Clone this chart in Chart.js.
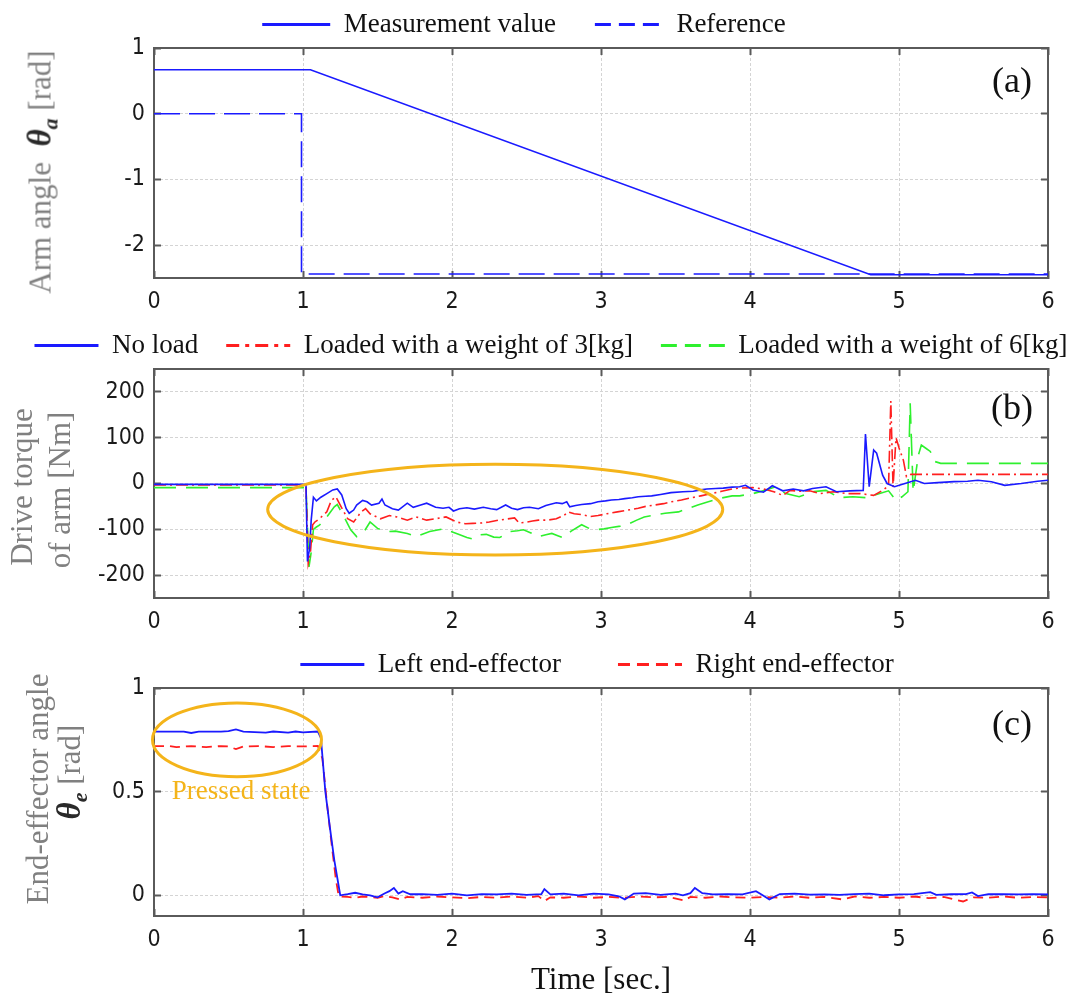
<!DOCTYPE html>
<html lang="en">
<head>
<meta charset="UTF-8">
<title>Arm angle, drive torque and end-effector angle</title>
<script src="https://cdn.jsdelivr.net/npm/chart.js@4.4.1/dist/chart.umd.min.js"></script>
<style>
  html, body { margin: 0; padding: 0; background: #fff; width: 1080px; height: 999px; overflow: hidden; }
  .panel { position: absolute; }
  .ytitle {
    position: absolute;
    transform: translate(-50%, -50%) rotate(-90deg);
    white-space: nowrap;
    font: 31px 'Liberation Serif', 'Times New Roman', serif;
    line-height: 36px;
    color: #808080;
  }
  .sym { font-style: italic; font-weight: bold; font-size: 33px; color: #2a2a2a; }
  .sym sub { font-size: 22px; vertical-align: -7px; }
</style>
</head>
<body>
<div class="panel" style="left:-56px; top:-28px;"><canvas id="chartA" width="1160" height="346"></canvas></div>
<div class="panel" style="left:-29px; top:304px;"><canvas id="chartB" width="1160" height="334"></canvas></div>
<div class="panel" style="left:17px; top:594px;"><canvas id="chartC" width="1160" height="405"></canvas></div>

<div class="ytitle" style="left:45px; top:172px;">Arm angle&nbsp; <span class="sym">θ<sub>a</sub></span> [rad]</div>
<div class="ytitle" style="left:22px; top:487px;">Drive torque</div>
<div class="ytitle" style="left:60px; top:490px;">of arm [Nm]</div>
<div class="ytitle" style="left:38px; top:789px;">End-effector angle</div>
<div class="ytitle" style="left:74px; top:772px;"><span class="sym">θ<sub>e</sub></span> [rad]</div>

<script>
// ---- data -------------------------------------------------------------

const timeTicks = [0, 1, 2, 3, 4, 5, 6];

// (a) arm angle [rad]
const armTicks = [-2, -1, 0, 1];
const armMeasured = [[0, 0.67], [1.05, 0.67], [4.81, -2.45], [6, -2.45]];
const armReference = [[0, 0], [0.99, 0], [0.99, -2.44], [6, -2.44]];

// (b) drive torque of arm [Nm]
const torqueTicks = [-200, -100, 0, 100, 200];
const torqueNoLoad = [
  [0, -2], [1.02, -2], [1.03, -170], [1.045, -140], [1.055, -80], [1.07, -30], [1.09, -38],
  [1.12, -30], [1.16, -22], [1.2, -14], [1.23, -12], [1.26, -25], [1.29, -55], [1.31, -65],
  [1.34, -58], [1.36, -47], [1.4, -37], [1.43, -40], [1.46, -47], [1.51, -43], [1.53, -34],
  [1.55, -47], [1.6, -55], [1.64, -58], [1.7, -43], [1.74, -52], [1.79, -47], [1.83, -43],
  [1.89, -52], [1.94, -54], [1.98, -52], [2.01, -60], [2.05, -55], [2.1, -53], [2.15, -56],
  [2.21, -52], [2.26, -55], [2.3, -57], [2.36, -47], [2.4, -54], [2.44, -57], [2.48, -53],
  [2.52, -52], [2.58, -55], [2.63, -48], [2.7, -42], [2.74, -44], [2.77, -40], [2.79, -51],
  [2.83, -48], [2.87, -46], [2.93, -44], [2.98, -40], [3.03, -38], [3.07, -36], [3.12, -35],
  [3.16, -33], [3.21, -31], [3.25, -29], [3.3, -28], [3.34, -27], [3.4, -24], [3.47, -20],
  [3.55, -18], [3.62, -17], [3.67, -14], [3.71, -12], [3.77, -11], [3.82, -10], [3.88, -8],
  [3.93, -7], [3.97, -4], [4.02, -14], [4.09, -19], [4.15, -5], [4.22, -16], [4.29, -12],
  [4.36, -16], [4.42, -11], [4.51, -7], [4.58, -18], [4.67, -16], [4.76, -15], [4.775, 108],
  [4.8, -7], [4.83, 73], [4.85, 66], [4.89, 18], [4.92, 0], [4.97, -7], [5.04, 0], [5.11, 7],
  [5.17, 0], [5.26, 2], [5.37, 4], [5.46, 5], [5.53, 7], [5.62, 4], [5.71, -4], [5.82, 0],
  [5.93, 5], [6, 7]
];
const torqueLoad3 = [
  [0, -3], [1.02, -3], [1.035, -174], [1.05, -150], [1.065, -90], [1.08, -84], [1.11, -77],
  [1.16, -62], [1.19, -37], [1.22, -29], [1.25, -47], [1.3, -77], [1.34, -84], [1.39, -62],
  [1.42, -55], [1.45, -66], [1.52, -77], [1.58, -70], [1.63, -73], [1.7, -80], [1.76, -73],
  [1.83, -80], [1.89, -77], [1.96, -73], [2.03, -84], [2.09, -88], [2.14, -87], [2.2, -86],
  [2.25, -84], [2.31, -80], [2.36, -78], [2.42, -75], [2.45, -86], [2.49, -85], [2.54, -82],
  [2.58, -80], [2.64, -80], [2.7, -77], [2.75, -70], [2.78, -62], [2.82, -66], [2.87, -68],
  [2.93, -72], [2.98, -70], [3.04, -66], [3.11, -62], [3.18, -58], [3.25, -54], [3.3, -50],
  [3.36, -47], [3.42, -44], [3.47, -40], [3.54, -36], [3.61, -31], [3.67, -27], [3.74, -22],
  [3.81, -17], [3.88, -12], [3.93, -10], [4.02, -9], [4.09, -12], [4.16, -18], [4.22, -26],
  [4.27, -15], [4.33, -17], [4.4, -16], [4.47, -22], [4.56, -18], [4.65, -22], [4.74, -22],
  [4.83, -26], [4.89, -15], [4.93, -5], [4.945, 180], [4.96, -8], [4.98, 100], [5.0, 78],
  [5.03, 50], [5.05, 15], [5.08, 20], [6, 20]
];
const torqueLoad6 = [
  [0, -9], [1.02, -9], [1.04, -182], [1.055, -150], [1.07, -100], [1.09, -95], [1.11, -91],
  [1.16, -73], [1.21, -51], [1.23, -46], [1.27, -69], [1.32, -101], [1.36, -116], [1.41, -105],
  [1.45, -84], [1.5, -98], [1.56, -105], [1.62, -104], [1.7, -109], [1.76, -116], [1.85, -105],
  [1.94, -99], [2.03, -109], [2.1, -118], [2.14, -121], [2.19, -112], [2.23, -111], [2.28, -117],
  [2.32, -118], [2.39, -105], [2.44, -103], [2.48, -101], [2.53, -108], [2.58, -116], [2.63, -112],
  [2.67, -109], [2.71, -114], [2.74, -118], [2.8, -104], [2.87, -90], [2.92, -98], [2.96, -101],
  [3.02, -99], [3.07, -96], [3.13, -93], [3.18, -89], [3.24, -80], [3.29, -73], [3.36, -69],
  [3.43, -65], [3.52, -62], [3.58, -55], [3.65, -47], [3.72, -40], [3.79, -33], [3.88, -27],
  [3.93, -27], [4.02, -22], [4.1, -15], [4.17, -7], [4.24, -22], [4.33, -29], [4.42, -18],
  [4.51, -15], [4.6, -31], [4.69, -29], [4.78, -31], [4.87, -22], [4.93, -16], [4.98, -37],
  [5.02, -29], [5.06, -18], [5.075, 175], [5.095, -18], [5.13, 62], [5.15, 84], [5.18, 77],
  [5.21, 70], [5.24, 48], [5.28, 44], [6, 44]
];

// (c) end-effector angle [rad]
const effectorTicks = [0, 0.5, 1];
const leftEffector = [
  [0, 0.79], [0.2, 0.79], [0.25, 0.783], [0.3, 0.79], [0.45, 0.79], [0.5, 0.792], [0.55, 0.8],
  [0.6, 0.79], [0.75, 0.785], [0.8, 0.79], [0.9, 0.785], [0.95, 0.79], [1.0, 0.786], [1.1, 0.79],
  [1.12, 0.76], [1.15, 0.5], [1.18, 0.33], [1.21, 0.17], [1.25, 0], [1.3, 0.005], [1.35, 0.012],
  [1.4, 0.004], [1.45, 0], [1.5, -0.01], [1.55, 0.01], [1.58, 0.02], [1.61, 0.035], [1.64, 0.008],
  [1.67, 0.02], [1.72, 0.005], [1.8, 0.006], [1.9, 0.002], [2.0, 0.008], [2.1, 0], [2.2, 0.006],
  [2.3, 0.004], [2.4, 0.008], [2.5, 0.002], [2.6, 0.006], [2.62, 0.03], [2.66, 0.004], [2.75, 0.008],
  [2.85, 0], [2.95, 0.008], [3.05, 0.004], [3.12, -0.005], [3.16, -0.02], [3.22, 0.008], [3.3, 0.01],
  [3.4, 0.002], [3.5, 0.008], [3.55, 0], [3.6, 0.01], [3.63, 0.035], [3.68, 0.01], [3.75, 0.004],
  [3.85, 0.006], [3.95, 0.004], [4.04, 0.02], [4.08, 0.003], [4.13, -0.02], [4.2, 0.006], [4.3, 0.008],
  [4.4, 0.003], [4.5, 0.004], [4.6, 0.002], [4.7, 0.006], [4.8, 0.008], [4.9, 0], [5.0, 0.004],
  [5.1, 0.006], [5.21, 0.015], [5.25, 0.002], [5.35, 0.005], [5.45, 0.006], [5.49, 0.014],
  [5.53, -0.004], [5.6, 0.006], [5.7, 0.005], [5.8, 0.004], [5.9, 0.005], [6, 0.004]
];
const rightEffector = [
  [0, 0.72], [0.1, 0.72], [0.15, 0.715], [0.25, 0.72], [0.35, 0.715], [0.45, 0.72], [0.5, 0.718],
  [0.55, 0.705], [0.6, 0.718], [0.7, 0.72], [0.8, 0.715], [0.9, 0.72], [1.0, 0.718], [1.1, 0.72],
  [1.13, 0.66], [1.16, 0.45], [1.19, 0.26], [1.22, 0.08], [1.24, -0.005], [1.3, -0.008],
  [1.35, -0.012], [1.4, -0.006], [1.5, -0.012], [1.55, -0.004], [1.6, -0.01], [1.65, -0.02],
  [1.7, -0.008], [1.8, -0.012], [1.9, -0.006], [2.0, -0.01], [2.1, -0.014], [2.2, -0.008],
  [2.3, -0.012], [2.4, -0.006], [2.5, -0.012], [2.58, -0.004], [2.62, -0.028], [2.66, -0.01],
  [2.75, -0.012], [2.85, -0.006], [2.95, -0.012], [3.05, -0.008], [3.15, -0.012], [3.25, -0.006],
  [3.35, -0.01], [3.45, -0.008], [3.56, -0.025], [3.6, -0.008], [3.7, -0.012], [3.8, -0.006],
  [3.9, -0.01], [4.0, -0.012], [4.1, -0.008], [4.2, -0.012], [4.3, -0.006], [4.4, -0.012],
  [4.5, -0.008], [4.62, -0.02], [4.7, -0.006], [4.8, -0.012], [4.9, -0.008], [5.0, -0.012],
  [5.1, -0.006], [5.2, -0.014], [5.3, -0.008], [5.43, -0.03], [5.5, -0.01], [5.6, -0.012],
  [5.7, -0.006], [5.8, -0.012], [5.9, -0.008], [6, -0.01]
];

// ---- styling ----------------------------------------------------------

const SERIF = "'Liberation Serif', 'Times New Roman', serif";
const NARROW = "'Liberation Sans Narrow', 'DejaVu Sans Condensed', 'Liberation Sans', sans-serif";
const BLUE = '#1a1aff', RED = '#ff1f1f', GREEN = '#2ef02e', ORANGE = '#f4b41a';
const BOX = '#5a5a5a', GRID = '#d4d4d4';

const toPoints = pairs => pairs.map(([x, y]) => ({ x, y }));

function legendItems(chart) {
  return chart.data.datasets.map((ds, i) => ({
    text: ds.label,
    strokeStyle: ds.borderColor,
    fillStyle: ds.borderColor,
    lineWidth: 3,
    lineDash: ds.legendDash || [],
    pointStyle: 'line',
    fontColor: '#111',
    hidden: false,
    datasetIndex: i
  }));
}

function buildScales(yMin, yMax, yTicks, leftWidth, rightWidth, xHeight, xTitle) {
  const fixTicks = list => s => { s.ticks = list.map(v => ({ value: v })); };
  const tickFont = { family: NARROW, size: 23 };
  const inward = { tickLength: -7, tickColor: BOX, tickWidth: 2 };
  return {
    x: {
      type: 'linear', min: 0, max: 6, position: 'bottom',
      afterBuildTicks: fixTicks(timeTicks),
      afterFit: s => { s.height = xHeight; },
      grid: { color: GRID, ...inward },
      border: { color: BOX, width: 2, dash: [3, 2] },
      ticks: { font: tickFont, color: '#1a1a1a', padding: 17, maxRotation: 0, callback: v => String(v) },
      title: xTitle
        ? { display: true, text: xTitle, color: '#111', font: { family: SERIF, size: 31 }, padding: 0 }
        : { display: false }
    },
    xTop: {
      type: 'linear', min: 0, max: 6, position: 'top',
      afterBuildTicks: fixTicks(timeTicks),
      afterFit: s => { s.height = 0; },
      grid: { drawOnChartArea: false, ...inward },
      border: { color: BOX, width: 2 },
      ticks: { display: false }
    },
    y: {
      min: yMin, max: yMax, position: 'left',
      afterBuildTicks: fixTicks(yTicks),
      afterFit: s => { s.width = leftWidth; },
      grid: { color: GRID, ...inward },
      border: { color: BOX, width: 2, dash: [3, 2] },
      ticks: { font: tickFont, color: '#1a1a1a', padding: 16, callback: v => String(v) }
    },
    yRight: {
      min: yMin, max: yMax, position: 'right',
      afterBuildTicks: fixTicks(yTicks),
      afterFit: s => { s.width = rightWidth; },
      grid: { drawOnChartArea: false, ...inward },
      border: { color: BOX, width: 2 },
      ticks: { display: false }
    }
  };
}

// orange ellipses, notes and the panel tag, placed in data coordinates
const panelDecor = {
  id: 'panelDecor',
  afterDraw(chart, args, opts) {
    const { ctx, chartArea: a, scales: { x, y } } = chart;
    ctx.save();
    (opts.ellipses || []).forEach(e => {
      const cx = x.getPixelForValue(e.t), cy = y.getPixelForValue(e.v);
      const rx = x.getPixelForValue(e.t + e.dt) - cx;
      const ry = cy - y.getPixelForValue(e.v + e.dv);
      ctx.beginPath();
      ctx.ellipse(cx, cy, rx, ry, 0, 0, Math.PI * 2);
      ctx.strokeStyle = ORANGE;
      ctx.lineWidth = 3;
      ctx.stroke();
    });
    ctx.textAlign = 'center';
    ctx.textBaseline = 'middle';
    (opts.notes || []).forEach(n => {
      ctx.font = `27px ${SERIF}`;
      ctx.fillStyle = ORANGE;
      ctx.fillText(n.text, x.getPixelForValue(n.t), y.getPixelForValue(n.v));
    });
    ctx.font = `36px ${SERIF}`;
    ctx.fillStyle = '#111';
    ctx.fillText(opts.tag, a.right - 36, a.top + opts.tagDy);
    ctx.restore();
  }
};

function makePanel(id, datasets, legendPad, boxWidth, scales, decor) {
  return new Chart(document.getElementById(id), {
    type: 'line',
    data: { datasets },
    options: {
      responsive: false,
      animation: false,
      events: [],
      layout: { padding: 0 },
      elements: { point: { radius: 0 }, line: { tension: 0 } },
      scales,
      plugins: {
        tooltip: { enabled: false },
        legend: {
          position: 'top',
          labels: {
            usePointStyle: true,
            pointStyle: 'line',
            pointStyleWidth: boxWidth,
            boxWidth: boxWidth,
            padding: legendPad,
            color: '#111',
            font: { family: SERIF, size: 27 },
            generateLabels: legendItems
          }
        },
        panelDecor: decor
      }
    },
    plugins: [panelDecor]
  });
}

// ---- (a) arm angle ----------------------------------------------------
makePanel('chartA', [
  { label: 'Measurement value', data: toPoints(armMeasured), borderColor: BLUE, borderWidth: 1.6 },
  { label: 'Reference', data: toPoints(armReference), borderColor: BLUE, borderWidth: 1.6,
    borderDash: [26, 9], legendDash: [16, 8] }
], 39, 68, buildScales(-2.5, 1, armTicks, 210, 56, 40, null), { tag: '(a)', tagDy: 35 });

// ---- (b) drive torque -------------------------------------------------
makePanel('chartB', [
  { label: 'No load', data: toPoints(torqueNoLoad), borderColor: BLUE, borderWidth: 1.6 },
  { label: 'Loaded with a weight of 3[kg]', data: toPoints(torqueLoad3), borderColor: RED, borderWidth: 1.6,
    borderDash: [12, 4, 2, 4], legendDash: [13, 6, 4, 6] },
  { label: 'Loaded with a weight of 6[kg]', data: toPoints(torqueLoad6), borderColor: GREEN, borderWidth: 1.6,
    borderDash: [22, 10], legendDash: [16, 8] }
], 28, 64, buildScales(-250, 250, torqueTicks, 183, 83, 40, null), {
  tag: '(b)', tagDy: 41,
  ellipses: [{ t: 2.29, v: -57, dt: 1.527, dv: 99 }]
});

// ---- (c) end-effector angle -------------------------------------------
makePanel('chartC', [
  { label: 'Left end-effector', data: toPoints(leftEffector), borderColor: BLUE, borderWidth: 1.8 },
  { label: 'Right end-effector', data: toPoints(rightEffector), borderColor: RED, borderWidth: 1.8,
    borderDash: [10, 6], legendDash: [12, 7] }
], 57, 64, buildScales(-0.1, 1, effectorTicks, 137, 129, 83, 'Time [sec.]'), {
  tag: '(c)', tagDy: 38,
  ellipses: [{ t: 0.557, v: 0.75, dt: 0.567, dv: 0.178 }],
  notes: [{ text: 'Pressed state', t: 0.585, v: 0.5 }]
});
</script>
</body>
</html>
